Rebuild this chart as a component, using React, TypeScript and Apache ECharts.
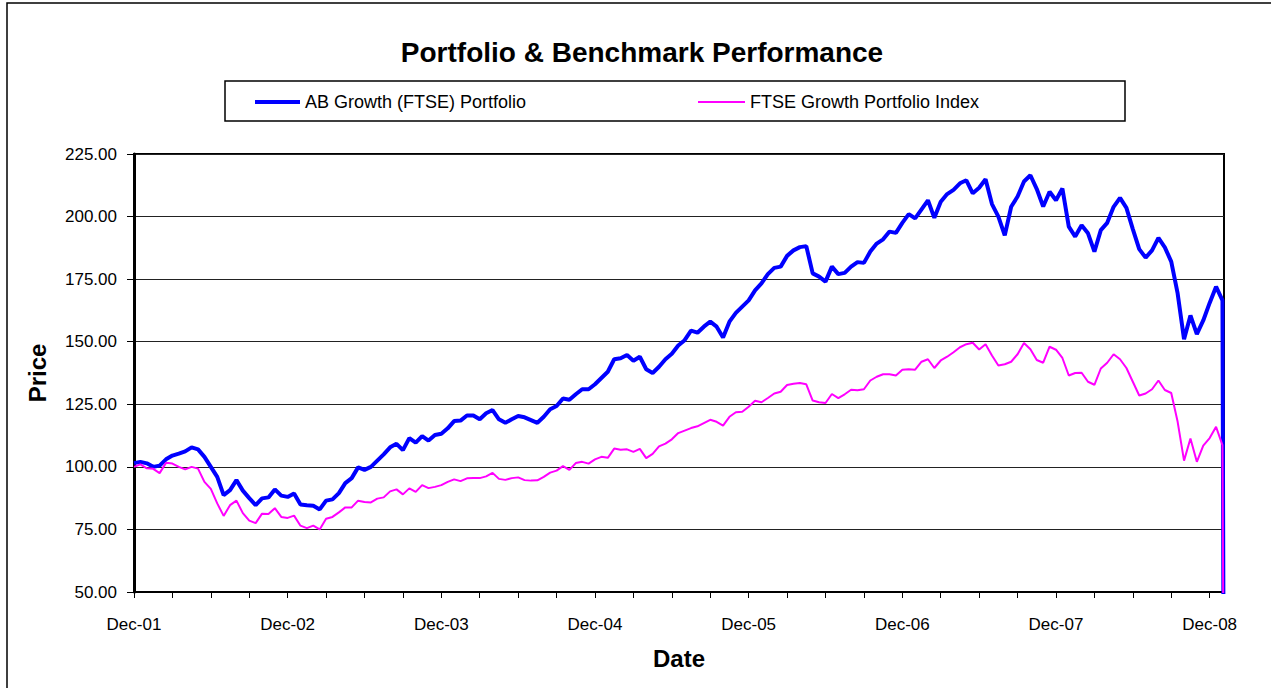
import React, { useEffect, useRef } from "react";
import * as echarts from "echarts";

// Semi-monthly observations starting Dec-01 (x = months since Dec-01)
const STEP_MONTHS = 0.5;
const END_MONTH = 85.1; // final (zero) record at the end of the series
const X_MAX = 85.12;

const yearLabels = ["Dec-01", "Dec-02", "Dec-03", "Dec-04", "Dec-05", "Dec-06", "Dec-07", "Dec-08"];

const seriesNames = ["AB Growth (FTSE) Portfolio", "FTSE Growth Portfolio Index"];

const portfolio = [
  101.5, 102, 101.4, 100, 100.5, 103, 104.5, 105.3, 106.2, 107.8,
  107, 104, 100, 96, 88.7, 90.7, 94.7, 90.5, 87.5, 84.7,
  87.4, 87.8, 91, 88.5, 88, 89.4, 85, 84.7, 84.5, 83,
  86.5, 87, 89.5, 93.5, 95.5, 99.8, 98.8, 100, 102.5, 105,
  107.8, 109.2, 106.7, 111.5, 109.7, 112.3, 110.5, 112.7, 113.2, 115.4,
  118.3, 118.5, 120.5, 120.5, 119, 121.4, 122.7, 119, 117.6, 119,
  120.3, 119.8, 118.7, 117.6, 120, 123, 124.3, 127.3, 126.8, 129,
  131, 131, 133, 135.5, 138, 143, 143.4, 144.7, 142.4, 144,
  139, 137.5, 140, 143, 145.2, 148.5, 150.6, 154.4, 153.6, 156,
  158, 156, 151.7, 158, 161.5, 164, 166.5, 170.5, 173.3, 177,
  179.5, 180, 184.3, 186.5, 187.8, 188.2, 177.3, 176, 174, 180,
  177, 177.5, 180, 181.8, 181.5, 186, 189.2, 190.9, 194, 193.5,
  197.5, 201, 199.3, 202.9, 206.5, 199.5, 205.9, 209, 210.7, 213.3,
  214.5, 209.3, 211.5, 214.9, 205, 200, 192.5, 203.9, 208, 214,
  216.5, 211, 204, 209.9, 206.5, 211.2, 196, 192, 196.5, 193.3,
  186, 194.6, 197.5, 203.9, 207.5, 203.5, 195, 187, 183.6, 186.5,
  191.5, 187.7, 182, 169.3, 151, 160.5, 153, 158.5, 165.5, 172,
  166.5,
];

const benchmark = [
  100, 101, 99.4, 99.2, 97.5, 101.6, 101.3, 100, 99, 100,
  99.3, 94, 91.2, 85.4, 80.4, 84.7, 86.5, 81.5, 78.5, 77.5,
  81.3, 81.2, 83.5, 80, 79.6, 80.5, 76.5, 75.5, 76.5, 75,
  79.3, 80, 81.8, 83.8, 83.8, 86.5, 86, 85.8, 87.3, 87.8,
  90.2, 91, 89, 91.4, 90, 92.7, 91.5, 92, 92.7, 94,
  95, 94.3, 95.4, 95.5, 95.5, 96.2, 97.6, 95.2, 94.8, 95.5,
  95.8, 94.7, 94.5, 94.6, 96, 97.7, 98.5, 100.3, 98.8, 101.5,
  102, 101.3, 103, 104, 103.6, 107.3, 106.8, 107, 106, 107.2,
  103.5, 105.2, 108.2, 109.3, 111, 113.5, 114.5, 115.5, 116.2, 117.5,
  118.8, 118, 116.5, 120, 121.8, 122, 124, 126.4, 125.8, 127.5,
  129.3, 130, 132.7, 133.2, 133.5, 133, 126.5, 125.8, 125.5, 129.1,
  127.5, 129, 130.8, 130.6, 131, 134.5, 136, 137, 137, 136.5,
  138.8, 139, 138.8, 142, 143, 139.5, 142.5, 144, 145.8, 147.8,
  149, 149.6, 146.9, 149, 144.5, 140.5, 141, 142, 145, 149.5,
  147, 142.7, 141.6, 148, 146.8, 143.5, 136.5, 137.5, 137.6, 134,
  132.8, 139.3, 141.6, 145, 143, 139.5, 134, 128.5, 129.3, 131,
  134.5, 130.7, 129.5, 118, 102.5, 111.3, 102, 108.5, 111.5, 116,
  108.7,
];

const finalValue = 0;

const ARIAL = '"Liberation Sans", Arial, sans-serif';

function toPoints(values: number[]) {
  const pts = values.map((v, i) => [i * STEP_MONTHS, v]);
  pts.push([END_MONTH, finalValue]);
  return pts;
}

export default function App() {
  const ref = useRef<HTMLDivElement>(null);

  useEffect(() => {
    if (!ref.current) return;
    const chart = echarts.init(ref.current, undefined, { renderer: "svg" });
    chart.setOption({
      animation: false,
      backgroundColor: "#fff",
      title: {
        text: "Portfolio & Benchmark Performance",
        left: 637,
        top: 33,
        textAlign: "center",
        textStyle: { fontFamily: ARIAL, fontWeight: "bold", fontSize: 28, color: "#000" },
      },
      legend: [
        {
          data: [seriesNames[0]],
          left: 255,
          top: 93,
          padding: 0,
          icon: "rect",
          itemWidth: 45,
          itemHeight: 4,
          textStyle: { fontFamily: ARIAL, fontSize: 18, color: "#000" },
        },
        {
          data: [seriesNames[1]],
          left: 698,
          top: 93,
          padding: 0,
          icon: "rect",
          itemWidth: 47,
          itemHeight: 2,
          textStyle: { fontFamily: ARIAL, fontSize: 18, color: "#000" },
        },
      ],
      graphic: [
        {
          type: "rect",
          shape: { x: 7, y: 3, width: 1300, height: 720 },
          style: { fill: "none", stroke: "#000", lineWidth: 1.5 },
          silent: true,
        },
        {
          type: "rect",
          shape: { x: 225, y: 81, width: 900, height: 40 },
          style: { fill: "none", stroke: "#000", lineWidth: 1.5 },
          silent: true,
        },
      ],
      grid: {
        left: 134,
        right: 47,
        top: 154,
        bottom: 96,
        show: true,
        borderColor: "#000",
        borderWidth: 2,
        backgroundColor: "#fff",
      },
      xAxis: {
        type: "value",
        min: 0,
        max: X_MAX,
        interval: 3,
        name: "Date",
        nameLocation: "middle",
        nameGap: 54,
        nameTextStyle: { fontFamily: ARIAL, fontWeight: "bold", fontSize: 24, color: "#000" },
        axisLine: { show: true, lineStyle: { color: "#000", width: 2 } },
        axisTick: { show: true, length: 6, lineStyle: { color: "#000", width: 1 } },
        axisLabel: {
          margin: 24,
          fontFamily: ARIAL,
          fontSize: 17,
          color: "#000",
          showMaxLabel: false,
          formatter: (v: number) => {
            const r = Math.round(v);
            if (Math.abs(v - r) > 1e-6 || r % 12 !== 0) return "";
            return yearLabels[r / 12] ?? "";
          },
        },
        splitLine: { show: false },
      },
      yAxis: {
        type: "value",
        min: 50,
        max: 225,
        interval: 25,
        name: "Price",
        nameLocation: "middle",
        nameGap: 85,
        nameRotate: 90,
        nameTextStyle: { fontFamily: ARIAL, fontWeight: "bold", fontSize: 24, color: "#000" },
        axisLine: { show: true, lineStyle: { color: "#000", width: 3 } },
        axisTick: { show: true, length: 7, lineStyle: { color: "#000", width: 1 } },
        axisLabel: {
          margin: 17,
          fontFamily: ARIAL,
          fontSize: 17,
          color: "#000",
          formatter: (v: number) => v.toFixed(2),
        },
        splitLine: { show: true, lineStyle: { color: "#222", width: 1 } },
      },
      series: [
        {
          name: seriesNames[0],
          type: "line",
          data: toPoints(portfolio),
          symbol: "none",
          clip: true,
          color: "#0000FF",
          lineStyle: { color: "#0000FF", width: 4 },
        },
        {
          name: seriesNames[1],
          type: "line",
          data: toPoints(benchmark),
          symbol: "none",
          clip: true,
          color: "#FF00FF",
          lineStyle: { color: "#FF00FF", width: 2 },
        },
      ],
    });
    return () => chart.dispose();
  }, []);

  return (
    <div
      ref={ref}
      style={{ position: "fixed", left: 0, top: 0, width: 1271, height: 688, background: "#fff" }}
    />
  );
}
